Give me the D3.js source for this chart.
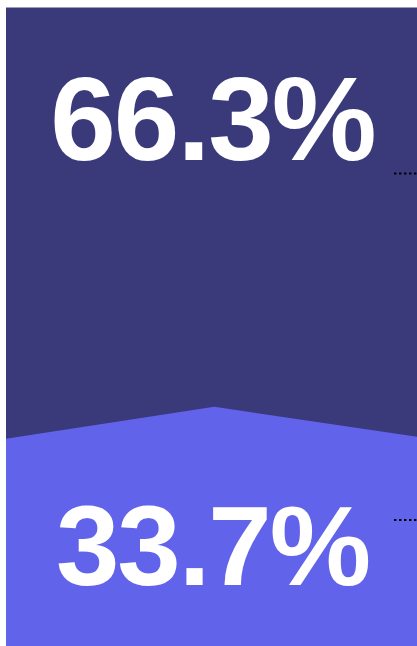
<!DOCTYPE html>
<html>
<head>
<meta charset="utf-8">
<script src="https://cdn.jsdelivr.net/npm/d3@7"></script>
<style>
  html, body { margin: 0; padding: 0; background: #fff; overflow: hidden; }
  svg { display: block; }
</style>
</head>
<body>
<div id="chart"></div>
<script>
// data
var categories = ["top", "bottom"];
var shares = [66.3, 33.7];
var labels = ["66.3%", "33.7%"];
var colors = ["#3a3a7b", "#6164ea"];

var width = 417,
  height = 646,
  margin = { top: 7.5, left: 6, right: -4, bottom: 0 };

var x = d3.scaleLinear().domain([0, 1]).range([margin.left, width - margin.right]);
var y = d3.scaleLinear().domain([0, 100]).range([height - margin.bottom, margin.top]);

var svg = d3.select("#chart")
  .append("svg")
  .attr("width", width)
  .attr("height", height);

// full bar = top share
svg.append("rect")
  .attr("x", x(0))
  .attr("y", y(100))
  .attr("width", x(1) - x(0))
  .attr("height", y(0) - y(100))
  .attr("fill", colors[0]);

// bottom share, chevron shaped top edge
var split = y(shares[1]);
var edgeL = split + 8, peak = split - 24, edgeR = split + 6.5;
var peakX = x(0.502);

svg.append("path")
  .attr("d", d3.line()([
    [x(0), edgeL],
    [peakX, peak],
    [x(1), edgeR],
    [x(1), y(0)],
    [x(0), y(0)]
  ]) + "Z")
  .attr("fill", colors[1]);

// value labels
var labelY = [160, 585];
var leaderY = [173.5, 520];

svg.selectAll("text.value")
  .data(categories)
  .join("text")
  .attr("class", "value")
  .attr("x", (d, i) => (x(0) + x(1)) / 2 - 1)
  .attr("y", (d, i) => labelY[i])
  .attr("text-anchor", "middle")
  .attr("font-family", "'Liberation Sans', Arial, sans-serif")
  .attr("font-weight", "bold")
  .attr("font-size", (d, i) => i === 0 ? 118 : 114)
  .attr("letter-spacing", "-2px")
  .attr("fill", "#fff")
  .text((d, i) => labels[i]);

// leader dots going off to the right
svg.selectAll("line.leader")
  .data(categories)
  .join("line")
  .attr("class", "leader")
  .attr("x1", 394)
  .attr("x2", width + 20)
  .attr("y1", (d, i) => leaderY[i])
  .attr("y2", (d, i) => leaderY[i])
  .attr("stroke", "#000")
  .attr("stroke-width", 2.2)
  .attr("stroke-dasharray", "2.4,2.6");
</script>
</body>
</html>
